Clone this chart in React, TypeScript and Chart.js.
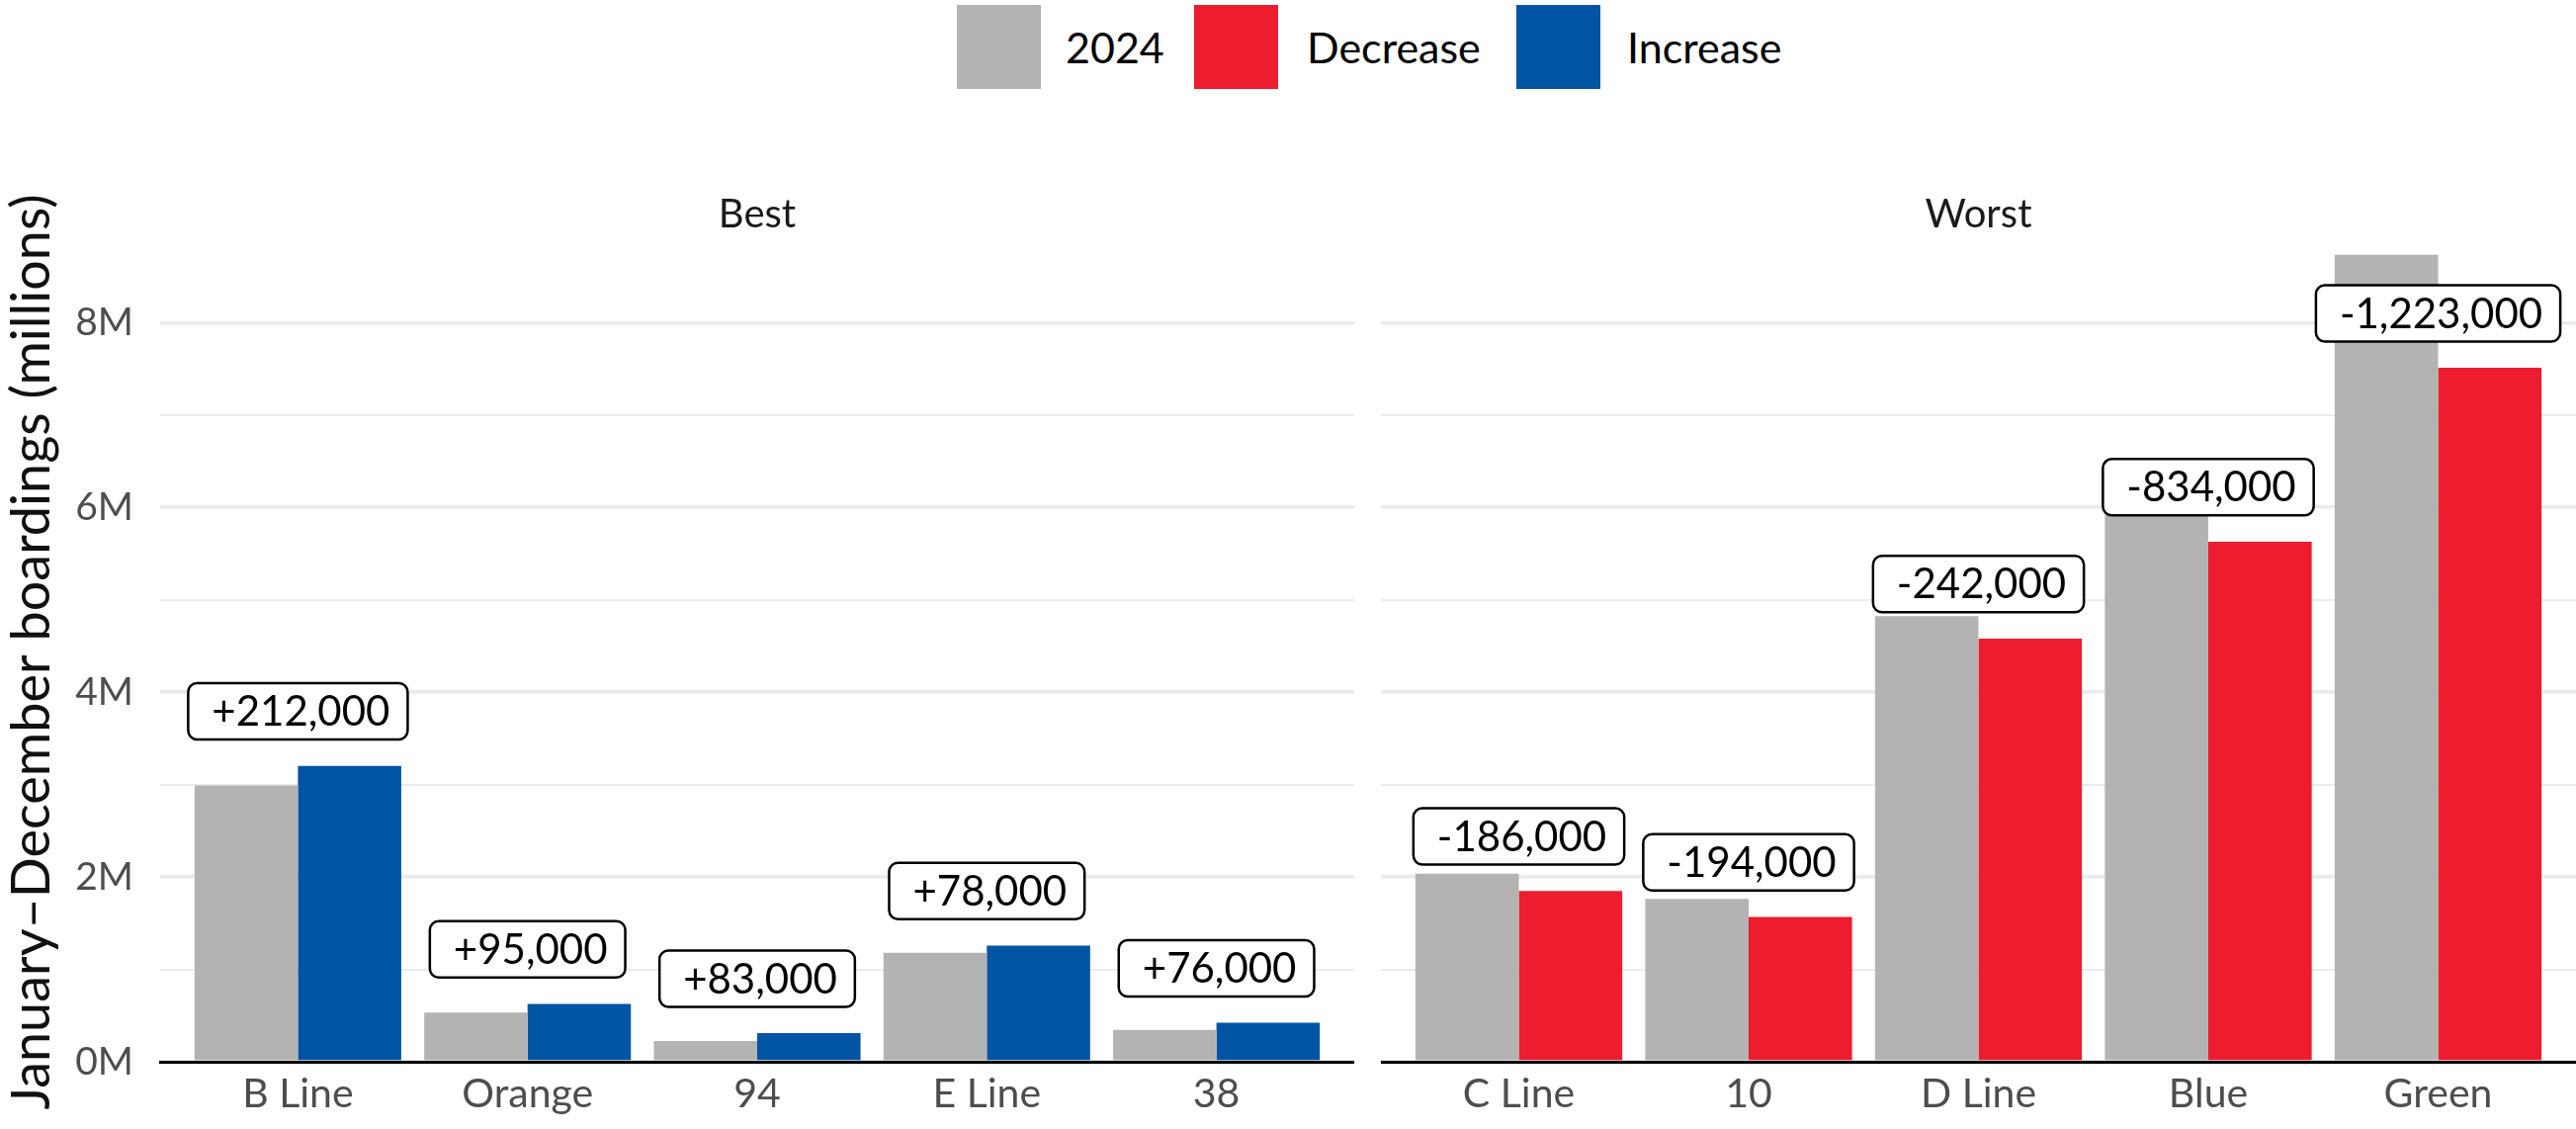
import React, { useEffect, useRef } from 'react';
import { Chart, registerables } from 'chart.js';

Chart.register(...registerables);

// ---------- data (values in millions of boardings) ----------
const bestCategories = ['B Line', 'Orange', '94', 'E Line', '38'];
const best2024 = [2.99, 0.532, 0.226, 1.18, 0.346];
const best2025 = [3.202, 0.627, 0.309, 1.258, 0.422];
const bestChange = [212000, 95000, 83000, 78000, 76000];

const worstCategories = ['C Line', '10', 'D Line', 'Blue', 'Green'];
const worst2024 = [2.035, 1.762, 4.822, 6.462, 8.733];
const worst2025 = [1.849, 1.568, 4.58, 5.628, 7.51];
const worstChange = [-186000, -194000, -242000, -834000, -1223000];

const yTickValues = [0, 1, 2, 3, 4, 5, 6, 7, 8];
const panelTitles = ['Best', 'Worst'];
const yAxisTitle = 'January–December boardings (millions)';
const legendLabels = ['2024', 'Decrease', 'Increase'];

// ---------- styles ----------
const FONT = 'Lato';
const GRAY = '#B3B3B3';
const RED = '#ED1C2E';
const BLUE = '#0054A4';
const Y_MAX = 8.87;
const LABEL_NUDGE = 0.59;

function makeLabelPlugin(values: number[], changes: number[]) {
  return {
    id: 'changeLabels',
    afterDatasetsDraw(chart: any) {
      const { ctx } = chart;
      const xs = chart.scales.x;
      const ys = chart.scales.y;
      ctx.save();
      ctx.font = `42px ${FONT}`;
      changes.forEach((c, i) => {
        const text = (c > 0 ? '+' : '') + c.toLocaleString('en-US');
        const cx = xs.getPixelForValue(i + 1);
        const cy = ys.getPixelForValue(values[i] + LABEL_NUDGE);
        const w = ctx.measureText(text).width + 42;
        const h = 57;
        ctx.beginPath();
        ctx.roundRect(cx - w / 2, cy - h / 2, w, h, 9);
        ctx.fillStyle = '#ffffff';
        ctx.fill();
        ctx.lineWidth = 2.5;
        ctx.strokeStyle = '#000000';
        ctx.stroke();
        ctx.fillStyle = '#000000';
        ctx.textAlign = 'center';
        ctx.textBaseline = 'middle';
        ctx.fillText(text, cx + 3, cy + 1);
      });
      ctx.restore();
    },
  };
}

function makeConfig(
  cats: string[],
  v24: number[],
  v25: number[],
  changes: number[],
  color: string,
  isLeft: boolean,
  title: string
): any {
  return {
    type: 'bar',
    data: {
      datasets: [
        {
          label: '2024',
          data: v24.map((v, i) => ({ x: i + 1, y: v })),
          backgroundColor: GRAY,
          borderWidth: 0,
          categoryPercentage: 0.9,
          barPercentage: 1.0,
        },
        {
          label: isLeft ? 'Increase' : 'Decrease',
          data: v25.map((v, i) => ({ x: i + 1, y: v })),
          backgroundColor: color,
          borderWidth: 0,
          categoryPercentage: 0.9,
          barPercentage: 1.0,
        },
      ],
    },
    options: {
      animation: false,
      responsive: false,
      maintainAspectRatio: false,
      layout: { padding: 0 },
      plugins: {
        legend: { display: false },
        tooltip: { enabled: false },
        title: {
          display: true,
          text: title,
          fullSize: false,
          font: { family: FONT, size: 40, weight: 'normal' },
          color: '#1a1a1a',
          padding: { top: 43, bottom: 4 },
        },
      },
      scales: {
        x: {
          type: 'linear',
          min: 0.4,
          max: 5.6,
          offset: false,
          afterBuildTicks: (s: any) => {
            s.ticks = cats.map((_, i) => ({ value: i + 1 }));
          },
          ticks: {
            callback: (v: any) => cats[Math.round(v) - 1] ?? '',
            font: { family: FONT, size: 41 },
            color: '#4d4d4d',
            padding: 8,
            autoSkip: false,
            maxRotation: 0,
          },
          grid: {
            display: true,
            offset: false,
            drawOnChartArea: false,
            drawTicks: false,
            color: 'rgba(0,0,0,0)',
          },
          border: { display: true, color: '#000000', width: 3 },
          afterFit: (s: any) => {
            s.height = 68;
          },
        },
        y: {
          min: 0,
          max: Y_MAX,
          afterBuildTicks: (s: any) => {
            s.ticks = yTickValues.map((v) => ({ value: v }));
          },
          ticks: {
            display: isLeft,
            callback: (v: any) => (v % 2 === 0 ? `${v}M` : ''),
            font: { family: FONT, size: 39 },
            color: '#4d4d4d',
            padding: 27,
          },
          grid: {
            drawTicks: false,
            color: '#EBEBEB',
            lineWidth: (ctx: any) => (ctx.tick && ctx.tick.value % 2 === 0 ? 3.5 : 2),
          },
          border: { display: false },
          title: {
            display: isLeft,
            text: yAxisTitle,
            font: { family: FONT, size: 54 },
            color: '#111111',
            padding: 0,
          },
          afterFit: (s: any) => {
            s.width = isLeft ? 162 : 0;
          },
        },
      },
    },
    plugins: [makeLabelPlugin(v25, changes)],
  };
}

function Panel(props: {
  cats: string[];
  v24: number[];
  v25: number[];
  changes: number[];
  color: string;
  isLeft: boolean;
  title: string;
  left: number;
  width: number;
}) {
  const ref = useRef<HTMLCanvasElement | null>(null);
  useEffect(() => {
    if (!ref.current) return;
    const chart = new Chart(
      ref.current,
      makeConfig(props.cats, props.v24, props.v25, props.changes, props.color, props.isLeft, props.title)
    );
    return () => chart.destroy();
  }, []);
  return (
    <canvas
      ref={ref}
      width={props.width}
      height={992}
      style={{ position: 'absolute', left: props.left, top: 150, width: props.width, height: 992 }}
    />
  );
}

export default function App() {
  const legendColors = [GRAY, RED, BLUE];
  const squareLefts = [968, 1208, 1534];
  const textLefts = [1078, 1322, 1646];
  return (
    <div
      style={{
        position: 'absolute',
        left: 0,
        top: 0,
        width: 2606,
        height: 1142,
        background: '#ffffff',
        overflow: 'hidden',
        fontFamily: FONT,
      }}
    >
      {legendLabels.map((lab, i) => (
        <React.Fragment key={lab}>
          <div
            style={{
              position: 'absolute',
              left: squareLefts[i],
              top: 5,
              width: 85,
              height: 85,
              background: legendColors[i],
            }}
          />
          <div
            style={{
              position: 'absolute',
              left: textLefts[i],
              top: 5,
              height: 85,
              lineHeight: '85px',
              fontSize: 43,
              color: '#000',
              whiteSpace: 'nowrap',
            }}
          >
            {lab}
          </div>
        </React.Fragment>
      ))}
      <Panel
        cats={bestCategories}
        v24={best2024}
        v25={best2025}
        changes={bestChange}
        color={BLUE}
        isLeft={true}
        title={panelTitles[0]}
        left={0}
        width={1370}
      />
      <Panel
        cats={worstCategories}
        v24={worst2024}
        v25={worst2025}
        changes={worstChange}
        color={RED}
        isLeft={false}
        title={panelTitles[1]}
        left={1397}
        width={1209}
      />
    </div>
  );
}
